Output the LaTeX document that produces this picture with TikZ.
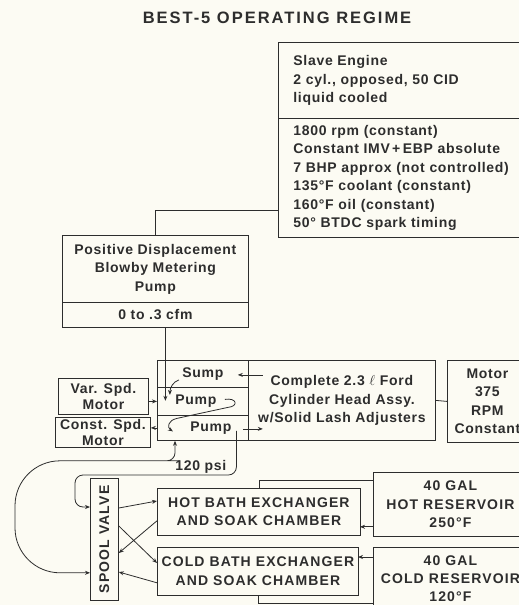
\documentclass[tikz,border=0pt]{standalone}
\usepackage{fontspec}
\setmainfont{Liberation Sans}[LetterSpace=5]
\newfontfamily\capsfont{Liberation Sans}[LetterSpace=8]
\newfontfamily\titlefont{Liberation Sans}[LetterSpace=12]
\usetikzlibrary{calc,arrows.meta}
\definecolor{paper}{RGB}{252,251,243}
\definecolor{ink}{RGB}{45,45,45}
\begin{document}
\begin{tikzpicture}[x=1pt,y=-1pt,
    every node/.style={font=\bfseries\fontsize{14}{18.5}\selectfont,inner sep=0pt,text=ink},
    box/.style={draw=ink,line width=0.8pt,anchor=north west,align=center},
    listbox/.style={box,align=left,text width=230pt,inner xsep=15pt},
    capsbox/.style={box,font=\capsfont\bfseries\fontsize{14}{18.5}\selectfont},
    motorbox/.style={box,font=\bfseries\fontsize{14}{15.5}\selectfont},
    link/.style={draw=ink,line width=0.8pt},
    arr/.style={link,-{Stealth[length=5pt,width=4pt]}}]
\useasboundingbox (0,0) rectangle (519,605);
\fill[paper] (0,0) rectangle (519,605);
\clip (0,0) rectangle (519,605);

\node[font=\titlefont\bfseries\fontsize{16.5}{18}\selectfont] (title) at (277,18) {BEST-5 OPERATING REGIME};

% slave engine
\node[listbox,minimum height=76pt] (slavehead) at (278,42) {Slave Engine\\2 cyl., opposed, 50 CID\\liquid cooled};
\node[listbox,minimum height=119pt] (slavelist) at (278,118) {1800 rpm (constant)\\Constant IMV\,+\,EBP absolute\\7 BHP approx (not controlled)\\135°F coolant (constant)\\160°F oil (constant)\\50° BTDC spark timing};

% blowby pump
\node[box,minimum width=186pt,minimum height=67pt] (pdpump) at (62,235) {Positive Displacement\\Blowby Metering\\Pump};
\node[box,minimum width=186pt,minimum height=25pt] (pdrate) at (62,302) {0 to .3 cfm};

% head assembly and pumps
\node[box,minimum width=91pt,minimum height=27pt] (sumpcell) at (157,360) {Sump};
\node[box,minimum width=91pt,minimum height=28pt] (pumpacell) at (157,387) {};
\node[box,minimum width=91pt,minimum height=25pt] (pumpbcell) at (157,415) {};
\node (pumpatext) at ($(pumpacell.center)+(-7,0)$) {Pump};
\node (pumpbtext) at ($(pumpbcell.center)+(8,0)$) {Pump};
\node[box,minimum width=187pt,minimum height=80pt] (head) at (248,360) {Complete 2.3 $\ell$ Ford\\Cylinder Head Assy.\\w/Solid Lash Adjusters};
\node[box,minimum width=80pt,minimum height=82pt] (motor) at (447,360) {Motor\\375\\RPM\\Constant};
\node[motorbox,minimum width=90pt,minimum height=36pt] (varmotor) at (58,378) {Var. Spd.\\Motor};
\node[motorbox,minimum width=95pt,minimum height=30pt] (constmotor) at (55,417) {Const. Spd.\\Motor};
\node (psilabel) at ($(pumpbcell.center)+(-2,39)$) {120 psi};

% baths
\node[box,minimum width=28pt,minimum height=122pt] (spool) at (90,478) {};
\node[rotate=90,font=\capsfont\bfseries\fontsize{14}{18}\selectfont] (spooltext) at (spool.center) {SPOOL VALVE};
\node[capsbox,minimum width=203pt,minimum height=47pt] (hotbath) at (157,488) {HOT BATH EXCHANGER\\AND SOAK CHAMBER};
\node[capsbox,minimum width=201pt,minimum height=48pt] (coldbath) at (157,547) {COLD BATH EXCHANGER\\AND SOAK CHAMBER};
\node[capsbox,minimum width=154pt,minimum height=64pt] (hotres) at (373,472) {40 GAL\\HOT RESERVOIR\\250°F};
\node[capsbox,minimum width=154pt,minimum height=62pt,font=\capsfont\bfseries\fontsize{14}{18}\selectfont] (coldres) at (373,547) {40 GAL\\COLD RESERVOIR\\120°F};

% connections
\draw[link] (slavelist.west |- 0,210) -| (pdpump.north);
\draw[arr] ($(pdrate.south)+(10,0)$) -- ++(0,73);
\draw[arr] ($(sumpcell.east)+(14,1)$) -- ($(sumpcell.east)+(-11,1)$);
\draw[arr] ($(pumpbcell.east)+(-6,1)$) -- ($(pumpbcell.east)+(14,1)$);
\draw[arr] (varmotor.east |- pumpacell.west) -- (pumpacell.west);
\draw[arr] (pumpbcell.west) -- (constmotor.east |- pumpbcell.west);
\draw[link] (head.east) -- (motor.west);
\begin{scope}[shift={(sumpcell.center)}]
  \draw[arr] (-24,6) .. controls (-30,8) and (-33,14) .. (-33,21);
\end{scope}
\begin{scope}[shift={(pumpacell.center)}]
  \draw[arr] (22,-2) .. controls (34,-4) and (36,5) .. (25,6) -- (-26,17) .. controls (-35,19) and (-36,26) .. (-30,30);
\end{scope}
\draw[arr,rounded corners=8pt] ($(pumpbcell.center)+(33.5,3)$) |- ($(spool.north west)+(-15,-3)$) |- ($(spool.north west)+(0,29)$);
\draw[link,{Stealth[length=5pt,width=4pt]}-{Stealth[length=5pt,width=4pt]}] ($(spool.south west)+(0,-28)$) [rounded corners=45pt] -- ++(-75,0) -- ++(0,-112) -- ++(120,0) [rounded corners=8pt] -- ++(40,0) -- ++(0,-20);
\draw[arr] ($(spool.north east)+(0,30)$) -- ($(hotbath.north west)+(0,13)$);
\draw[arr] ($(hotbath.south west)+(0,-15)$) -- ($(spool.north east)+(0,75)$);
\draw[arr] ($(spool.north east)+(0,48)$) -- ($(coldbath.north west)+(0,16)$);
\draw[arr] ($(coldbath.south west)+(0,-13)$) -- ($(spool.north east)+(0,94)$);
\draw[arr] ($(hotres.south west)+(0,-10)$) -- +(-13,0);
\draw[link] (hotbath.north) |- ($(hotres.north west)+(0,8)$);
\draw[arr] ($(coldres.north west)+(0,10)$) -- +(-15,0);
\draw[link] (coldbath.south) |- ($(coldres.north west)+(0,56)$);
\end{tikzpicture}
\end{document}
